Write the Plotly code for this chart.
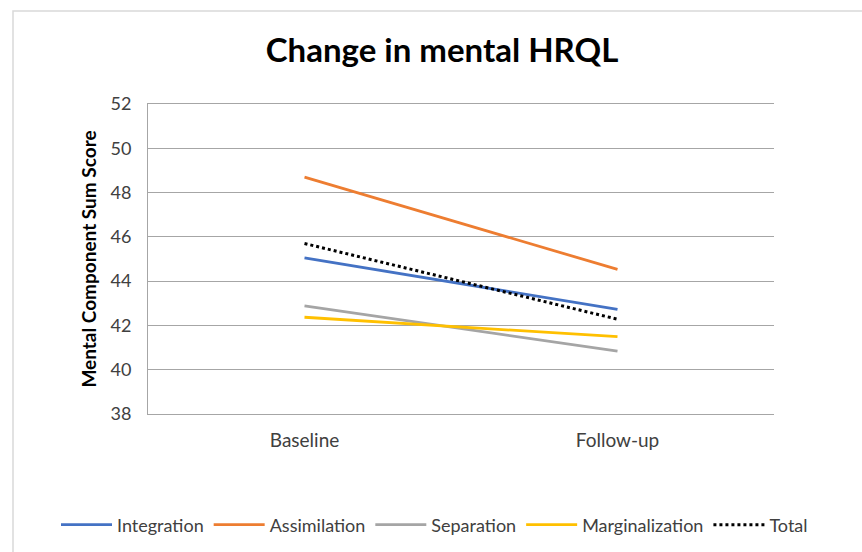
import plotly.graph_objects as go

categories = ["Baseline", "Follow-up"]
integration = [45.05, 42.72]
assimilation = [48.7, 44.53]
separation = [42.88, 40.84]
marginalization = [42.37, 41.49]
total = [45.7, 42.28]

series = [
    ("Integration", integration, "#4472C4", "solid"),
    ("Assimilation", assimilation, "#ED7D31", "solid"),
    ("Separation", separation, "#A5A5A5", "solid"),
    ("Marginalization", marginalization, "#FFC000", "solid"),
    ("Total", total, "#000000", "dot"),
]

fig = go.Figure()
for name, vals, color, dash in series:
    fig.add_trace(go.Scatter(
        x=categories, y=vals, name=name, mode="lines",
        line=dict(color=color, width=3 if dash == "dot" else 2.8, dash=dash),
    ))

L, R, T, B = 148, 88, 104, 138
W, H = 862, 552
pw, ph = W - L - R, H - T - B

fig.add_shape(type="rect", xref="paper", yref="paper",
              x0=(13 - L) / pw, x1=(875 - L) / pw,
              y0=(H - B - 570) / ph, y1=(H - B - 11) / ph,
              line=dict(color="#d9d9d9", width=1.5), fillcolor="rgba(0,0,0,0)", layer="below")

fig.update_layout(
    width=W, height=H,
    margin=dict(l=L, r=R, t=T, b=B, autoexpand=False),
    paper_bgcolor="white", plot_bgcolor="white",
    font=dict(family="Lato, Calibri, sans-serif", color="#404040"),
    title=dict(text="<b>Change in mental HRQL</b>", x=442 / W, xanchor="center",
               y=1 - 50 / H, yanchor="middle",
               font=dict(size=33, color="#000000", family="Lato, sans-serif")),
    showlegend=True,
    legend=dict(orientation="h", x=(56 - L) / pw, xanchor="left",
                y=(H - B - 525) / ph, yanchor="middle",
                font=dict(size=18, color="#404040"), itemwidth=51,
                bgcolor="rgba(0,0,0,0)"),
    xaxis=dict(type="category", range=[-0.5, 1.5], showgrid=False,
               showline=True, mirror=True, linecolor="#a6a6a6", linewidth=1,
               ticks="", ticklabelstandoff=9, automargin=False,
               tickfont=dict(size=19, color="#404040"), fixedrange=True),
    yaxis=dict(range=[38, 52], dtick=2, showgrid=True, gridcolor="#a6a6a6", gridwidth=1,
               showline=True, linecolor="#a6a6a6", linewidth=1, zeroline=False,
               tickfont=dict(size=18, color="#404040"), ticks="", ticklabelstandoff=12,
               automargin=False,
               title=dict(text="<b>Mental Component Sum Score</b>",
                          font=dict(size=19, color="#000000"), standoff=8)),
)

fig.write_html("out.html", config={"displayModeBar": False},
               post_script="document.body.style.margin='0';")
